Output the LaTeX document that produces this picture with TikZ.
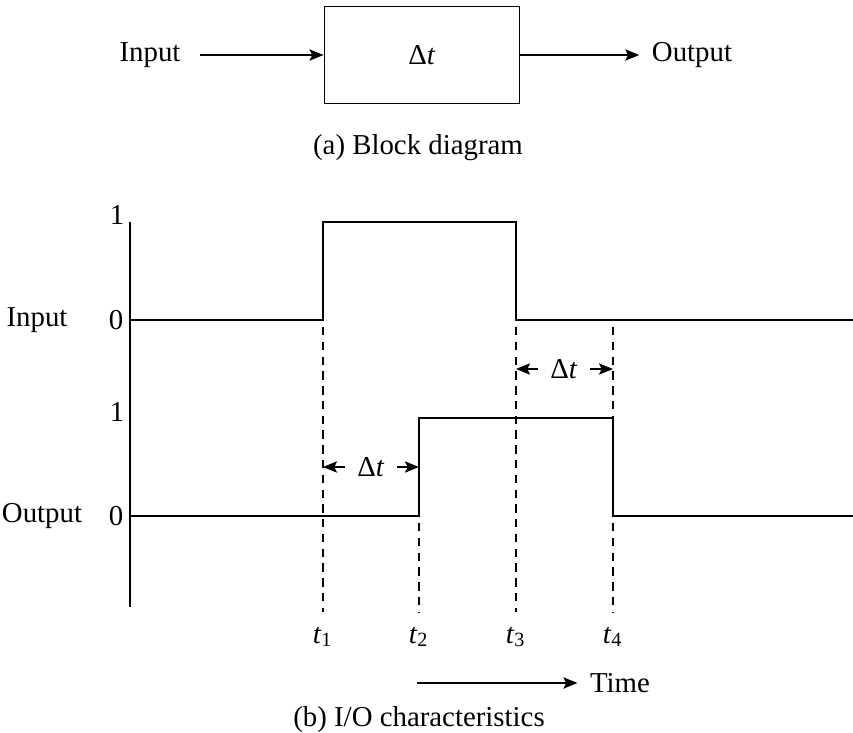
\documentclass[tikz,border=0pt]{standalone}
\usepackage{fontspec}
\setmainfont{Liberation Serif}
\usepackage{tikz}
\usetikzlibrary{arrows.meta,positioning,calc}
\newcommand{\dtime}{Δ\textit{t}}
\newcommand{\tmark}[1]{\textit{t}\textsubscript{#1}}

\begin{document}
\begin{tikzpicture}[x=0.01cm,y=-0.01cm,line width=0.5pt,
    font=\fontsize{8.2}{10}\selectfont,
    arr/.style={-{Stealth[length=4pt,width=3.2pt,inset=0.8pt]}},
    guide/.style={line width=0.45pt,dash pattern=on 2.4pt off 1.8pt}]
  \useasboundingbox (0,0) rectangle (853,733);
  % Block diagram
  \node[draw,minimum width=1.95cm,minimum height=0.97cm] (dly) at (422,55) {\dtime};
  \node (inp) at (150,55) {Input};
  \node (outp) at (692,55) {Output};
  \draw[arr,shorten <=2pt] (inp) -- (dly);
  \draw[arr] (dly) -- (outp);
  \node (capa) at (418,148) {(a) Block diagram};
  % Levels
  \coordinate (hi1) at (0,222);
  \coordinate (lo1) at (0,320);
  \coordinate (hi2) at (0,418);
  \coordinate (lo2) at (0,516);
  \coordinate (base) at (0,612);
  % Level labels
  \node (one1) at (117,215) {1};
  \node (zero1) at (116,320) {0};
  \node (inlab) at (37,320) {Input};
  \node (one2) at (117,412) {1};
  \node (zero2) at (116,516) {0};
  \node (outlab) at (42,516) {Output};
  \draw (130,222) -- (130,607);
  % Input and output waveforms
  \draw (130,320) -- (323,320) -- (323,222) -- (516,222) -- (516,320) -- (853,320);
  \draw (130,516) -- (419,516) -- (419,418) -- (613,418) -- (613,516) -- (853,516);
  % Time marks
  \foreach \x/\i in {323/1,419/2,516/3,613/4}
    \node (t\i) at (\x,637) {\tmark{\i}};
  \draw[guide] ([yshift=-2pt]t1 |- lo1) -- (t1 |- base);
  \draw[guide] ([yshift=-2pt]t2 |- lo2) -- (t2 |- base);
  \draw[guide] ([yshift=-2pt]t3 |- lo1) -- (t3 |- base);
  \draw[guide] ([yshift=-2pt]t4 |- lo1) -- (t4 |- hi2);
  \draw[guide] ([yshift=-2pt]t4 |- lo2) -- (t4 |- base);
  % Delay spans
  \node (dspan1) at (371,467) {\dtime};
  \draw[arr] (dspan1) -- (t1 |- dspan1);
  \draw[arr] (dspan1) -- (t2 |- dspan1);
  \node (dspan2) at (564,369) {\dtime};
  \draw[arr] (dspan2) -- (t3 |- dspan2);
  \draw[arr] (dspan2) -- (t4 |- dspan2);
  % Time axis
  \coordinate (tstart) at (417,683);
  \node (tim) at (620,683) {Time};
  \draw[arr] (tstart) -- (tim);
  \node (capb) at (419,720) {(b) I/O characteristics};
\end{tikzpicture}
\end{document}
